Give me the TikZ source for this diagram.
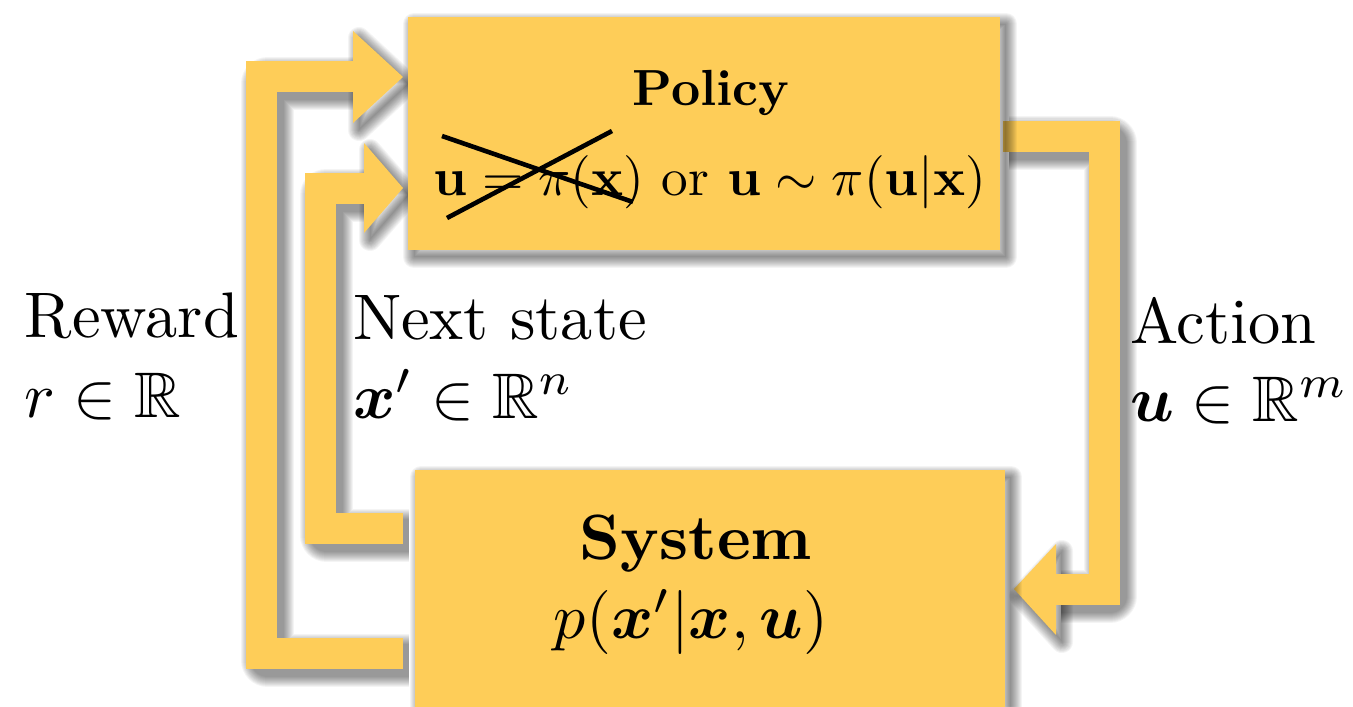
\RequirePackage{fix-cm}
\documentclass[tikz,border=0pt]{standalone}
\usepackage{amsmath,amssymb,bm}
\pgfdeclarelayer{ashadow}
\pgfdeclarelayer{arrowlayer}
\pgfdeclarelayer{bshadow}
\pgfsetlayers{ashadow,arrowlayer,bshadow,main}
\definecolor{boxyellow}{RGB}{254,205,88}
\tikzset{
  box/.style={fill=boxyellow, draw=none, inner sep=0pt, outer sep=0pt},
  flow/.style={draw=boxyellow, line width=15.5pt, line join=miter},
  headfill/.style={fill=boxyellow, draw=none},
  shadowstroke/.style={draw=black, opacity=0.045, line join=round, transform canvas={shift={(3pt,-3.5pt)}}},
  shadowfill/.style={fill=black, opacity=0.045, transform canvas={shift={(3pt,-3.5pt)}}},
  lbl/.style={inner sep=0pt, outer sep=0pt, anchor=base west, font=\fontsize{10}{12}\selectfont, scale=3.22},
  txt/.style={inner sep=0pt, outer sep=0pt, anchor=base, font=\fontsize{10}{12}\selectfont},
  cross/.style={draw=black, line width=2.3pt}
}
\begin{document}
\begin{tikzpicture}[x=0.5pt,y=-0.5pt]
\useasboundingbox (0,0) rectangle (1353,706);
\begin{pgfonlayer}{ashadow}
  \fill[white] (0,0) rectangle (1353,706);
\end{pgfonlayer}

% boxes
\node[box, minimum width=296pt, minimum height=116.5pt] (policy) at (704,133.5) {};
\node[box, minimum width=295pt, minimum height=135pt] (system) at (710,605) {};

% box texts
\node[txt, font=\bfseries, scale=2.54] (policytitle) at (711,105) {Policy};
\node[txt, scale=2.66] (policymath) at (710,195)
  {$\mathbf{u}=\pi(\mathbf{x})$ or $\mathbf{u}\sim\pi(\mathbf{u}|\mathbf{x})$};
\draw[cross] (442,136) -- (633,202);
\draw[cross] (447,218) -- (612,131);
\node[txt, font=\bfseries, scale=3.2] (systemtitle) at (696,559) {System};
\node[txt, scale=3.2] (systemmath) at (691,638)
  {$p(\bm{x}'|\bm{x},\bm{u})$};

% labels
\node[lbl] (rwtitle) at (25,337) {Reward};
\node[lbl] (rwmath) at (25,417) {$r\in\mathbb{R}$};
\node[lbl] (nstitle) at (353,339) {Next state};
\node[lbl] (nsmath) at (353,418) {$\bm{x}'\in\mathbb{R}^n$};
\node[lbl] (actitle) at (1130,343) {Action};
\node[lbl] (acmath) at (1130,421) {$\bm{u}\in\mathbb{R}^m$};

% connector end points
\coordinate (rw-start) at ([xshift=-6pt,yshift=-91.5pt]system.north west);
\coordinate (rw-end)   at ([xshift=-2.5pt,yshift=-30pt]policy.north west);
\coordinate (ns-start) at ([xshift=-6pt,yshift=-29pt]system.north west);
\coordinate (ns-end)   at ([xshift=-2.5pt,yshift=-85.5pt]policy.north west);
\coordinate (ac-start) at ([xshift=1.5pt,yshift=-59.5pt]policy.north east);
\coordinate (ac-end)   at ([xshift=4.5pt,yshift=-59.5pt]system.north east);

\def\rwpath{(rw-start) -- ++(-142,0) |- ([xshift=-24.5pt]rw-end)}
\def\rwhead{(rw-end) -- ++(-50,-46) -- ++(0,92) -- cycle}
\def\nspath{(ns-start) -- ++(-83,0) |- ([xshift=-19pt]ns-end)}
\def\nshead{(ns-end) -- ++(-39,-45) -- ++(0,90) -- cycle}
\def\acpath{(ac-start) -- ++(101,0) |- ([xshift=20.5pt]ac-end)}
\def\achead{(ac-end) -- ++(42,-45) -- ++(0,91) -- cycle}

% arrow shadows
\begin{pgfonlayer}{ashadow}
  \fill[shadowfill] \rwhead;
  \fill[shadowfill] \nshead;
  \fill[shadowfill] \achead;
  \foreach \i in {1,...,11} {
    \draw[shadowstroke, line width=15.5pt+\i*1pt] \rwpath;
    \draw[shadowstroke, line width=\i*1pt] \rwhead;
    \draw[shadowstroke, line width=15.5pt+\i*1pt] \nspath;
    \draw[shadowstroke, line width=\i*1pt] \nshead;
    \draw[shadowstroke, line width=15.5pt+\i*1pt] \acpath;
    \draw[shadowstroke, line width=\i*1pt] \achead;
  }
\end{pgfonlayer}

% arrows
\begin{pgfonlayer}{arrowlayer}
  \draw[flow] \rwpath;
  \fill[headfill] \rwhead;
  \draw[flow] \nspath;
  \fill[headfill] \nshead;
  \draw[flow] \acpath;
  \fill[headfill] \achead;
\end{pgfonlayer}

% box shadows
\begin{pgfonlayer}{bshadow}
  \fill[shadowfill] (policy.south west) rectangle (policy.north east);
  \fill[shadowfill] (system.south west) rectangle (system.north east);
  \foreach \i in {1,...,11} {
    \draw[shadowstroke, line width=\i*1pt] (policy.south west) rectangle (policy.north east);
    \draw[shadowstroke, line width=\i*1pt] (system.south west) rectangle (system.north east);
  }
\end{pgfonlayer}
\end{tikzpicture}
\end{document}
